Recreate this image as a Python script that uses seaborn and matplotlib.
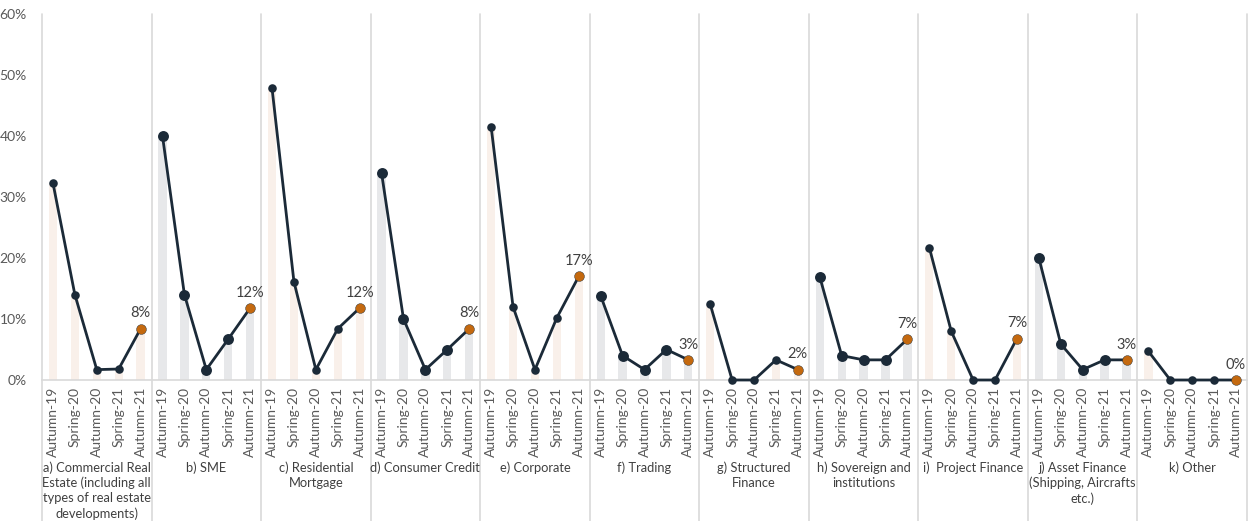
import matplotlib
matplotlib.use("Agg")
import matplotlib.pyplot as plt
import numpy as np
import pandas as pd
import seaborn as sns

# ---------------------------------------------------------------
# Data (share of responses, %)
# ---------------------------------------------------------------
periods = ["Autumn-19", "Spring-20", "Autumn-20", "Spring-21", "Autumn-21"]
segments = [
    "a) Commercial Real\nEstate (including all\ntypes of real estate\ndevelopments)",
    "b) SME",
    "c) Residential\nMortgage",
    "d) Consumer Credit",
    "e) Corporate",
    "f) Trading",
    "g) Structured\nFinance",
    "h) Sovereign and\ninstitutions",
    "i)  Project Finance",
    "j) Asset Finance\n(Shipping, Aircrafts\netc.)",
    "k) Other",
]
commercial_re = [32.3, 14.0, 1.7, 1.8, 8.4]
sme = [40.0, 14.0, 1.7, 6.7, 11.8]
residential = [47.8, 16.1, 1.7, 8.4, 11.8]
consumer = [33.9, 10.0, 1.7, 5.0, 8.4]
corporate = [41.5, 12.0, 1.7, 10.2, 17.0]
trading = [13.8, 4.0, 1.7, 5.0, 3.3]
structured = [12.4, 0.0, 0.0, 3.3, 1.7]
sovereign = [16.9, 4.0, 3.3, 3.3, 6.7]
project = [21.7, 8.0, 0.0, 0.0, 6.8]
asset = [20.0, 5.9, 1.7, 3.3, 3.3]
other = [4.7, 0.0, 0.0, 0.0, 0.0]
series = [commercial_re, sme, residential, consumer, corporate, trading,
          structured, sovereign, project, asset, other]

# ---------------------------------------------------------------
# Long table
# ---------------------------------------------------------------
rows = []
for g, vals in enumerate(series):
    for p, v in enumerate(vals):
        rows.append({"pos": g * 5 + p, "group": g, "period": periods[p],
                     "value": v, "shade": "odd" if g % 2 == 0 else "even",
                     "last": p == len(periods) - 1})
df = pd.DataFrame(rows)

NAVY = "#1B2A38"
ORANGE = "#C4690F"
GRID = "#D9D9D9"
TXT = "#595959"

sns.set_style("white")
plt.rcParams["font.family"] = ["Lato", "DejaVu Sans"]

fig = plt.figure(figsize=(12.52, 5.21), dpi=100)
ax = fig.add_axes([42 / 1252, 1 - 380 / 521, (1247 - 42) / 1252, (380 - 14) / 521])

sns.barplot(data=df, x="pos", y="value", hue="shade", native_scale=True,
            palette={"odd": "#FCF0E7", "even": "#E7E8EA"}, width=0.38,
            dodge=False, legend=False, ax=ax, linewidth=0)

sns.lineplot(data=df, x="pos", y="value", units="group", estimator=None,
             color=NAVY, lw=2.0, sort=False, ax=ax, legend=False, zorder=3)

body = df[~df["last"]]
sns.scatterplot(data=body[body["shade"] == "odd"], x="pos", y="value",
                color=NAVY, s=38, linewidth=0, ax=ax, zorder=4, legend=False)
sns.scatterplot(data=body[body["shade"] == "even"], x="pos", y="value",
                color=NAVY, s=62, linewidth=0, ax=ax, zorder=4, legend=False)
tail = df[df["last"]]
sns.scatterplot(data=tail, x="pos", y="value", color=ORANGE, s=50,
                edgecolor=NAVY, linewidth=0.3, ax=ax, zorder=5, legend=False)
for c in ax.collections:
    c.set_clip_on(False)
for ln in ax.lines:
    ln.set_clip_on(False)

for _, r in tail.iterrows():
    ax.annotate(f"{r['value']:.0f}%", (r["pos"], r["value"]),
                xytext=(0, 6), textcoords="offset points", ha="center",
                va="bottom", fontsize=10.5, color="#404040")

ax.set_xlim(-0.5, len(df) - 0.5)
ax.set_ylim(0, 60)
ax.set_yticks(np.arange(0, 61, 10))
ax.set_yticklabels([f"{t}%" for t in range(0, 61, 10)], color=TXT, fontsize=10)
ax.set_xticks(df["pos"])
ax.set_xticklabels(df["period"], rotation=90, color=TXT, fontsize=10)
ax.tick_params(axis="both", length=0, pad=5)
ax.tick_params(axis="y", pad=11)
ax.set_xlabel("")
ax.set_ylabel("")
for s in ["top", "right", "left"]:
    ax.spines[s].set_visible(False)
ax.spines["bottom"].set_color(GRID)
ax.spines["bottom"].set_linewidth(1.2)
ax.spines["bottom"].set_zorder(1)

# group separators running down through the label area
xt = ax.get_xaxis_transform()
bottom = -(521 - 380) / (380 - 14)
for g in range(len(series) + 1):
    ax.plot([g * 5 - 0.5] * 2, [bottom, 1], color=GRID, lw=1.2,
            transform=xt, clip_on=False, zorder=0)

for g, name in enumerate(segments):
    ax.text(g * 5 + 2, -(461 - 380) / (380 - 14), name, transform=xt,
            ha="center", va="top", fontsize=9.3, color="#404040",
            linespacing=1.3)

fig.savefig("out.png", dpi=100)
